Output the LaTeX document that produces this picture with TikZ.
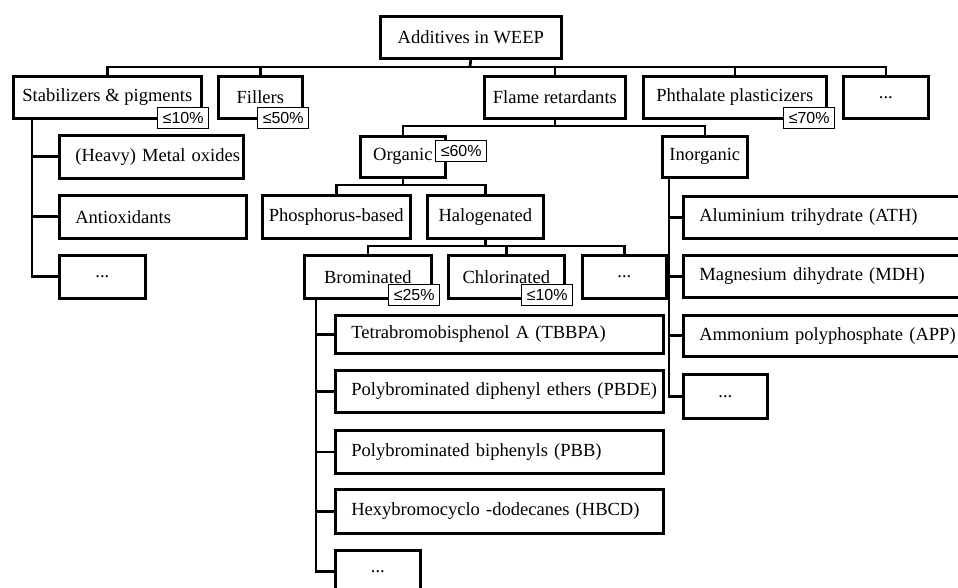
\documentclass[tikz,border=0pt]{standalone}
\usepackage{fontspec}
\setmainfont{Liberation Serif}
\newfontfamily\tagfont{Liberation Sans}
\usepackage{tikz}

\begin{document}
\begin{tikzpicture}[x=0.75pt,y=0.75pt,yscale=-1,xscale=1,
  box/.style={draw, line width=2pt, inner sep=0pt, anchor=north west, minimum height=31.5pt, font=\fontsize{13.9}{16}\selectfont},
  lbox/.style={box, align=left, inner xsep=12pt, text width=#1},
  tag/.style={draw, fill=white, line width=0.8pt, inner sep=0pt, anchor=north west, minimum width=38.5pt, minimum height=15.75pt, font=\tagfont\fontsize{12}{14}\selectfont},
  link/.style={line width=2pt}]
%set diagram left start at 0, and has height of 588
\useasboundingbox (0,0) rectangle (958,588);

% Text Node
\draw (379,15) node [box, minimum width=135.75pt] (root) {Additives in WEEP};
% Text Node
\draw (12,75) node [box, minimum width=141pt] (stab) {Stabilizers \& pigments};
% Text Node
\draw (217,75) node [box, minimum width=63pt] (fill) {Fillers};
% Text Node
\draw (483,75) node [box, minimum width=105.75pt] (flame) {Flame retardants};
% Text Node
\draw (642,75) node [box, minimum width=137.25pt] (phth) {Phthalate plasticizers};
% Text Node
\draw (842,75) node [box, minimum width=63.75pt] (more) {...};

% Text Node
\draw (58,134) node [lbox=114pt, minimum height=32.25pt] (mox) {\mbox{(Heavy) Metal oxides}};
% Text Node
\draw (58,194) node [lbox=116.25pt, minimum height=32.25pt] (anti) {\mbox{Antioxidants}};
% Text Node
\draw (58,254) node [box, minimum width=64.5pt, minimum height=32.25pt] (sdots) {...};

% Text Node
\draw (359,135) node [box, minimum width=63.75pt, minimum height=30.75pt] (org) {Organic};
% Text Node
\draw (661,135) node [box, minimum width=63.75pt, minimum height=30.75pt] (inorg) {Inorganic};
% Text Node
\draw (261,194) node [box, minimum width=111pt, minimum height=32.25pt] (phos) {Phosphorus-based};
% Text Node
\draw (426,194) node [box, minimum width=87pt, minimum height=32.25pt] (halo) {Halogenated};
% Text Node
\draw (303,254) node [box, minimum width=95.25pt, minimum height=32.25pt] (brom) {Brominated};
% Text Node
\draw (447,254) node [box, minimum width=87pt, minimum height=32.25pt] (chlor) {Chlorinated};
% Text Node
\draw (581,254) node [box, minimum width=63pt, minimum height=32.25pt] (hdots) {...};

% Text Node
\draw (334,314) node [lbox=222pt, minimum height=28.5pt] (tbbpa) {\mbox{Tetrabromobisphenol A (TBBPA)}};
% Text Node
\draw (334,369) node [lbox=222pt] (pbde) {\mbox{Polybrominated diphenyl ethers (PBDE)}};
% Text Node
\draw (334,429) node [lbox=222pt, minimum height=32.25pt] (pbb) {\mbox{Polybrominated biphenyls (PBB)}};
% Text Node
\draw (334,488) node [lbox=222pt, minimum height=33pt] (hbcd) {\mbox{Hexybromocyclo -dodecanes (HBCD)}};
% Text Node
\draw (334,549) node [box, minimum width=63.75pt] (bdots) {...};

% Text Node
\draw (682,195) node [lbox=189pt] (ath) {\mbox{Aluminium trihydrate (ATH)}};
% Text Node
\draw (682,254) node [lbox=189pt] (mdh) {\mbox{Magnesium dihydrate (MDH)}};
% Text Node
\draw (682,314) node [lbox=189pt, minimum height=30.75pt] (app) {\mbox{Ammonium polyphosphate (APP)}};
% Text Node
\draw (682,373) node [box, minimum width=63pt, minimum height=33pt] (idots) {...};

%Straight Lines
\coordinate (bus1) at (470,67);
\draw[link] (root.south) -- (bus1);
\draw[link] (stab.north) |- (more.north |- bus1) -- (more.north);
\draw[link] (fill.north) -- (fill.north |- bus1);
\draw[link] (flame.north) -- (flame.north |- bus1);
\draw[link] (phth.north) -- (phth.north |- bus1);
%Straight Lines
\coordinate (bus2) at (553,126);
\draw[link] (flame.south) -- (flame.south |- bus2);
\draw[link] (org.north) |- (inorg.north |- bus2) -- (inorg.north);
%Straight Lines
\coordinate (bus3) at (402,185);
\draw[link] (org.south) -- (org.south |- bus3);
\draw[link] (phos.north) |- (halo.north |- bus3) -- (halo.north);
%Straight Lines
\coordinate (bus4) at (484,246);
\draw[link] (halo.south) -- (halo.south |- bus4);
\draw[link] (brom.north) |- (hdots.north |- bus4) -- (hdots.north);
\draw[link] (chlor.north) -- (chlor.north |- bus4);

%Straight Lines
\coordinate (sfoot) at (32,117);
\draw[link] (sfoot) |- (sdots.west);
\draw[link] (sfoot |- mox.west) -- (mox.west);
\draw[link] (sfoot |- anti.west) -- (anti.west);
%Straight Lines
\coordinate (bfoot) at (316,297);
\draw[link] (bfoot) |- (bdots.west);
\draw[link] (bfoot |- tbbpa.west) -- (tbbpa.west);
\draw[link] (bfoot |- pbde.west) -- (pbde.west);
\draw[link] (bfoot |- pbb.west) -- (pbb.west);
\draw[link] (bfoot |- hbcd.west) -- (hbcd.west);
%Straight Lines
\coordinate (ifoot) at (669,176);
\draw[link] (ifoot) |- (idots.west);
\draw[link] (ifoot |- ath.west) -- (ath.west);
\draw[link] (ifoot |- mdh.west) -- (mdh.west);
\draw[link] (ifoot |- app.west) -- (app.west);

% Text Node
\draw (157,107) node [tag] (t10a) {≤10\%};
% Text Node
\draw (257,107) node [tag] (t50) {≤50\%};
% Text Node
\draw (783,107) node [tag] (t70) {≤70\%};
% Text Node
\draw (435,140) node [tag] (t60) {≤60\%};
% Text Node
\draw (388,284) node [tag] (t25) {≤25\%};
% Text Node
\draw (521,284) node [tag] (t10b) {≤10\%};

\end{tikzpicture}
\end{document}
